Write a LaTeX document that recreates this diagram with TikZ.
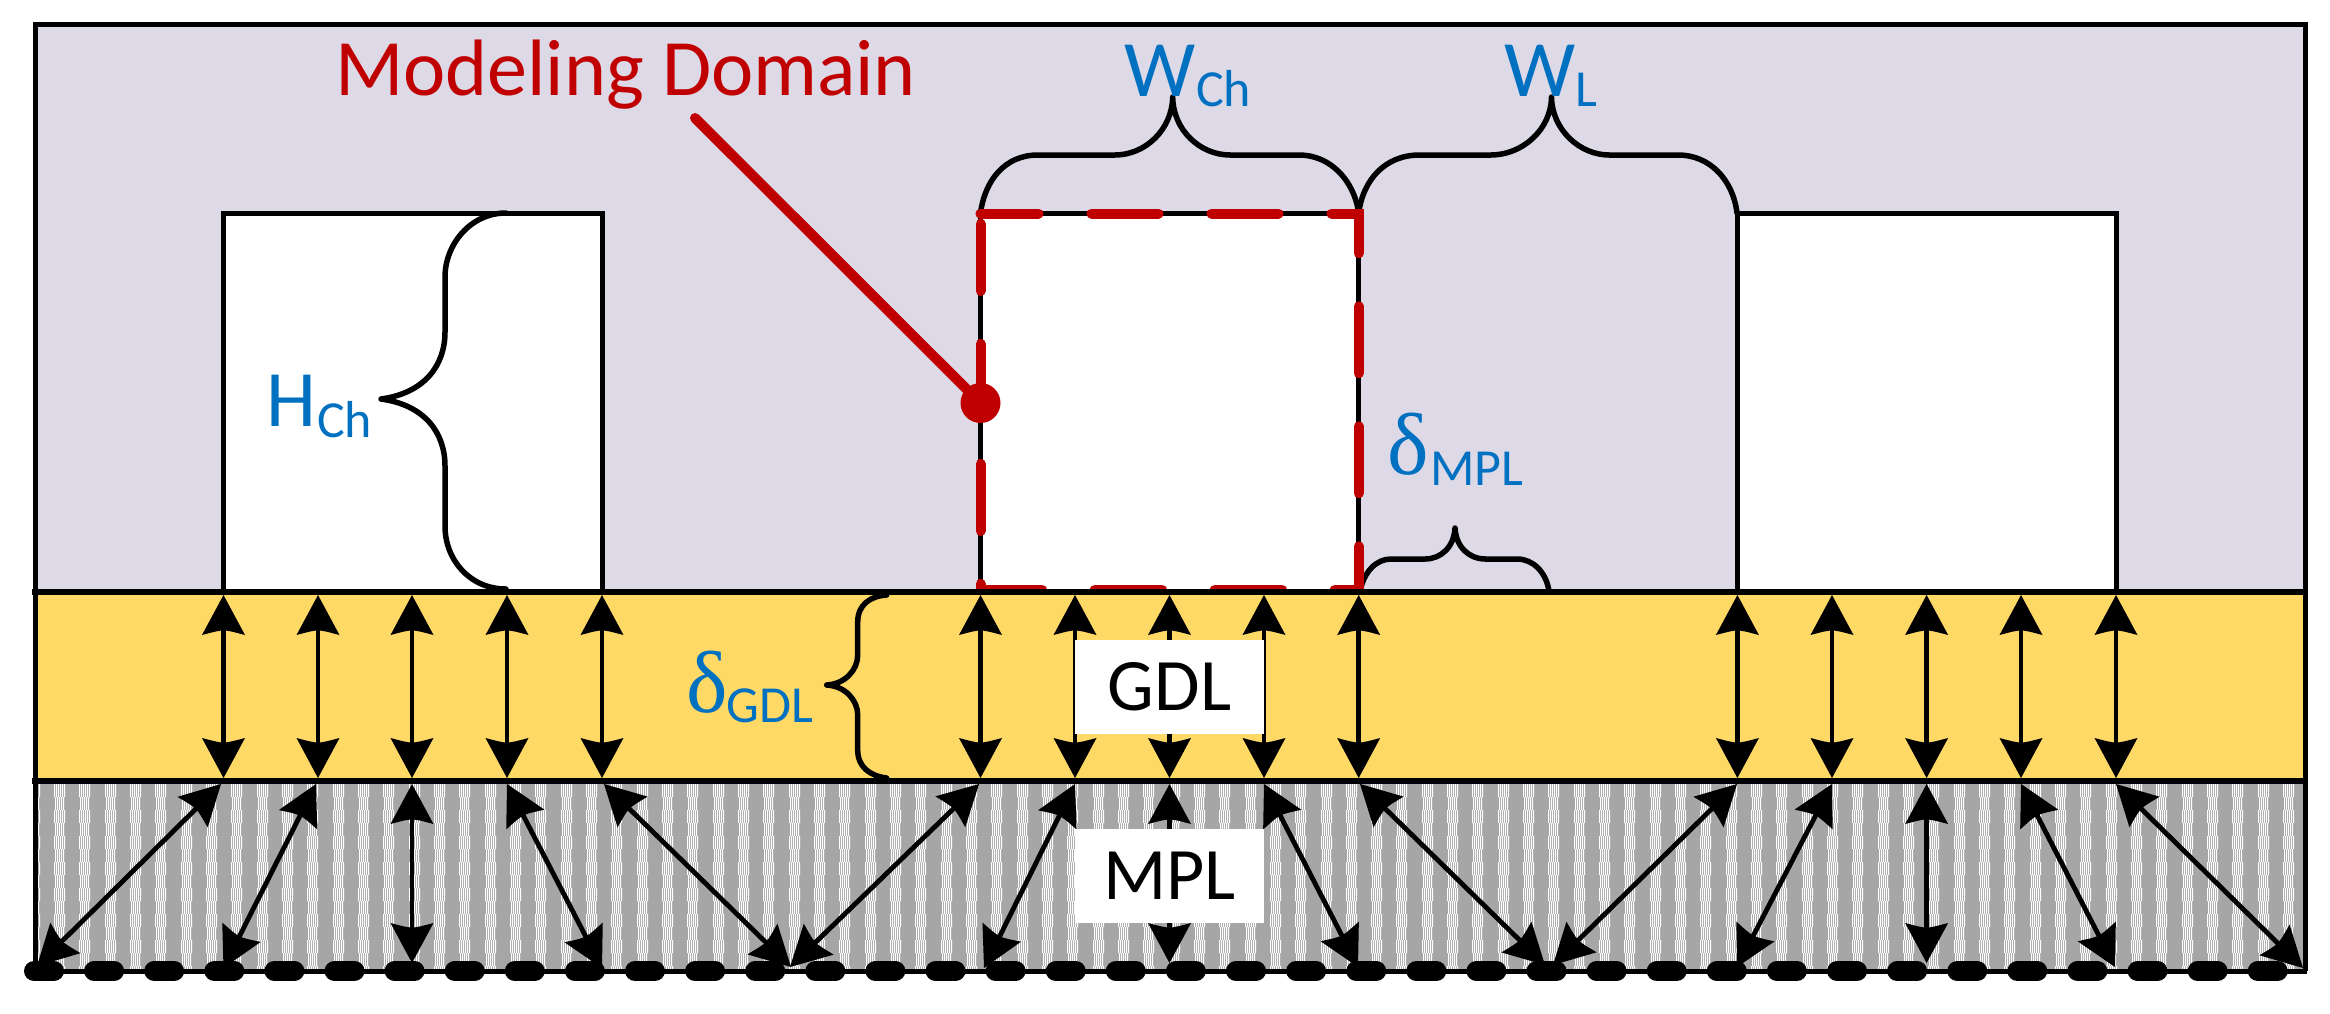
\documentclass[tikz,border=0pt]{standalone}
\usepackage{fontspec}
\setmainfont{Carlito}
\newfontfamily\deltafont{Liberation Serif}
\usetikzlibrary{arrows.meta}
\definecolor{bgpurple}{HTML}{DED9E6}
\definecolor{gdlyellow}{HTML}{FFD966}
\definecolor{mplgray}{HTML}{A6A6A6}
\definecolor{domred}{HTML}{C00000}
\definecolor{dimblue}{HTML}{0070C0}
\pgfdeclarearrow{
  name=CurvTip,
  setup code={
    \pgfarrowssettipend{0pt}
    \pgfarrowssetlineend{-30bp}
    \pgfarrowssetbackend{-40bp}
  },
  drawing code={
    \pgfpathmoveto{\pgfqpoint{0pt}{0pt}}
    \pgfpathlineto{\pgfpoint{-40bp}{21.5bp}}
    \pgfpathcurveto{\pgfpoint{-37bp}{10bp}}{\pgfpoint{-35.5bp}{5bp}}{\pgfpoint{-35.5bp}{0bp}}
    \pgfpathcurveto{\pgfpoint{-35.5bp}{-5bp}}{\pgfpoint{-37bp}{-10bp}}{\pgfpoint{-40bp}{-21.5bp}}
    \pgfpathclose
    \pgfusepathqfill
  }
}
\newcommand{\fs}[1]{\fontsize{#1bp}{#1bp}\selectfont}
\tikzset{
  x=1bp,y=-1bp,
  frameline/.style={black,line width=5bp},
  layerline/.style={black,line width=6.5bp},
  chan/.style={fill=white,draw=black,line width=5bp,line join=miter},
  brace/.style={black,line width=5.5bp,line cap=round,line join=round},
  flux/.style={black,line width=4.8bp,{CurvTip}-{CurvTip}},
  redline/.style={domred,line width=10bp,line cap=round},
  bigtxt/.style={inner sep=0pt,anchor=base west,font=\fs{80}},
  subtxt/.style={inner sep=0pt,anchor=base west,font=\fs{52}},
  gdltxt/.style={inner sep=0pt,anchor=base west,font=\fs{52}},
  deltatxt/.style={inner sep=0pt,anchor=base west,font=\deltafont\fs{88}},
  layerlabel/.style={fill=white,text=black,inner sep=0pt,minimum width=189bp,minimum height=94bp,font=\fs{74}},
}
\begin{document}
\begin{tikzpicture}
\useasboundingbox (0,0) rectangle (2330,1013);
% background
\fill[bgpurple] (35,24.5) rectangle (2305,592);
% channels
\draw[chan] (223.5,213.5) rectangle (602,592);
\draw[chan] (980.5,213.5) rectangle (1358.7,592);
\draw[chan] (1737.4,213.5) rectangle (2116,592);
% H brace
\draw[brace] (506,213) .. controls (470,213) and (445,245) .. (445,277) -- (445,332)
  .. controls (445,365) and (425,393) .. (381,399)
  .. controls (425,405) and (445,433) .. (445,466) -- (445,526)
  .. controls (445,560) and (470,589) .. (506,589);
% W braces
\draw[brace] (980.5,213) .. controls (985,180) and (1005,155) .. (1038,155) -- (1115,155)
  .. controls (1145,155) and (1172,130) .. (1172.7,97)
  .. controls (1173,130) and (1200,155) .. (1230,155) -- (1299,155)
  .. controls (1330,155) and (1354,180) .. (1358.7,213);
\draw[brace] (1358.7,213) .. controls (1363,180) and (1385,155) .. (1419.5,155) -- (1491,155)
  .. controls (1522,155) and (1551,130) .. (1551.5,97)
  .. controls (1552,130) and (1580,155) .. (1609,155) -- (1678,155)
  .. controls (1710,155) and (1733,180) .. (1737,213);
% delta MPL brace
\draw[brace] (1360,591) .. controls (1364,572) and (1376,559) .. (1391,559) -- (1425,559)
  .. controls (1441,559) and (1454,547) .. (1455,528)
  .. controls (1456,547) and (1469,559) .. (1485.5,559) -- (1517,559)
  .. controls (1533,559) and (1546,572) .. (1549,591);
% modeling domain outline
\draw[redline,dash pattern=on 67bp off 53bp,dash phase=9bp] (980.5,213.5) -- (1358.7,213.5) -- (1358.7,589.5) -- (980.5,589.5) -- cycle;
% GDL
\fill[gdlyellow] (35,592) rectangle (2305,781);
% MPL
\fill[mplgray] (35,781) rectangle (2305,971);
\begin{scope}
\clip (37,784) rectangle (2303,968);
\foreach \k in {-1,...,89}{
  \pgfmathtruncatemacro{\xo}{round(54+25.33*\k)}
  \fill[white] foreach \r in {0,2,...,14}{
      foreach \o in {0,2,4,6,8,10}{
        (\xo+\o,784+13*\r) rectangle (\xo+\o+1,797+13*\r)
      }
    }
    foreach \r in {1,3,...,13}{
      foreach \o in {1,3,5,7,9}{
        (\xo+\o,784+13*\r) rectangle (\xo+\o+1,797+13*\r)
      }
    };
}
\end{scope}
% frame lines
\draw[frameline,line cap=square] (35,971) -- (35,24.5) -- (2305,24.5) -- (2305,971);
\draw[layerline] (32,592) -- (2308,592);
\draw[layerline] (32,781) -- (2308,781);
\draw[black,line width=5bp] (33,971) -- (2307,971);
% bottom row of rounded dashes
\draw[black,line width=20bp,line cap=round,dash pattern=on 20bp off 40.1bp] (34,971) -- (2290,971);
% GDL arrows
\foreach \i/\x in {1/223.5,2/318,3/412,4/507,5/602,6/980.5,7/1075,8/1169.5,9/1264,10/1358.7,11/1737.4,12/1832,13/1926.6,14/2021,15/2116}{
  \coordinate (gt\i) at (\x,595);
  \coordinate (gb\i) at (\x,778);
  \draw[flux] (gt\i) -- (gb\i);
}
% MPL arrows
\foreach \i/\tx/\bx/\by in {1/221/37/966,2/316/223.5/968,3/412/412/963,4/507/602/968,5/604/791/967,6/979/790/967,7/1075/984/968,8/1169.5/1169.5/963,9/1264/1358/967,10/1360/1545/965,11/1737/1553/965,12/1832/1737/967,13/1926.6/1926.6/963,14/2021/2115/967,15/2116/2303/968}{
  \coordinate (mt\i) at (\tx,784);
  \coordinate (mb\i) at (\bx,\by);
  \draw[flux] (mt\i) -- (mb\i);
}
% delta GDL brace
\draw[brace] (886.7,595) .. controls (870,596) and (857.7,605) .. (857.7,622) -- (857.7,655)
  .. controls (857.7,670) and (845,684) .. (826.7,685)
  .. controls (845,686) and (857.7,700) .. (857.7,715) -- (857.7,750)
  .. controls (857.7,767) and (870,776) .. (886.7,778);
% layer labels
\node[layerlabel] (gdl) at (1169.5,687) {GDL};
\node[layerlabel] (mpl) at (1169.5,876) {MPL};
% leader
\coordinate (leaderstart) at (695,118);
\node[circle,fill=domred,inner sep=0pt,minimum size=40bp] (dot) at (980.5,403) {};
\draw[redline] (leaderstart) -- (dot.center);
% texts
\node[bigtxt,text=domred] (md) at (335,95) {Modeling Domain};
\node[bigtxt,text=dimblue] (wch) at (1124,96) {W};
\node[subtxt,text=dimblue] (wchs) at (1196,106) {Ch};
\node[bigtxt,text=dimblue] (wl) at (1504,96) {W};
\node[subtxt,text=dimblue] (wls) at (1575,106) {L};
\node[bigtxt,text=dimblue] (hch) at (266,426) {H};
\node[subtxt,text=dimblue] (hchs) at (317,437) {Ch};
\node[deltatxt,text=dimblue] (dm) at (1387,474) {\char"03B4};
\node[gdltxt,text=dimblue] (dms) at (1430,485) {MPL};
\node[deltatxt,text=dimblue] (dg) at (686,712) {\char"03B4};
\node[gdltxt,text=dimblue] (dgs) at (726,722) {GDL};
\end{tikzpicture}
\end{document}
